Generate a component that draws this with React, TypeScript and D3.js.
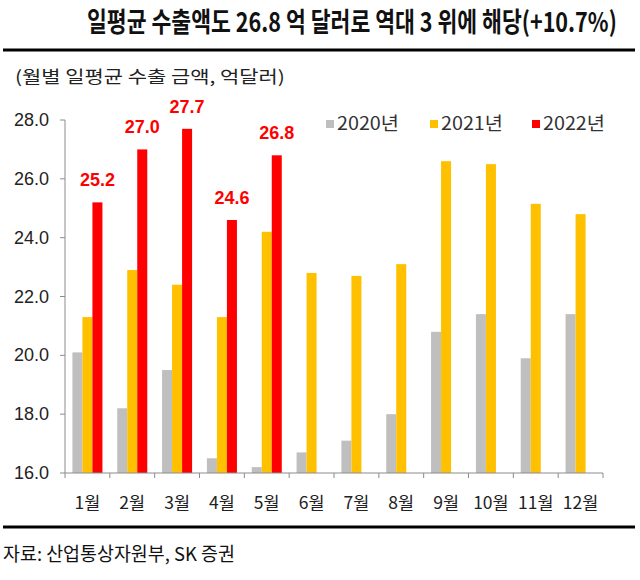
import React, { useLayoutEffect, useRef, useState } from 'react';
import * as d3 from 'd3';

const months = ['1월', '2월', '3월', '4월', '5월', '6월', '7월', '8월', '9월', '10월', '11월', '12월'];
const seriesNames = ['2020년', '2021년', '2022년'];
const v2020 = [20.1, 18.2, 19.5, 16.5, 16.2, 16.7, 17.1, 18.0, 20.8, 21.4, 19.9, 21.4];
const v2021 = [21.3, 22.9, 22.4, 21.3, 24.2, 22.8, 22.7, 23.1, 26.6, 26.5, 25.15, 24.8];
const v2022 = [25.2, 27.0, 27.7, 24.6, 26.8];
const yTicks = [16, 18, 20, 22, 24, 26, 28];
const colors = ['#BFBFBF', '#FFC000', '#FF0000'];

const title = '일평균 수출액도 26.8 억 달러로 역대 3 위에 해당(+10.7%)';
const subtitle = '(월별 일평균 수출 금액, 억달러)';
const source = '자료: 산업통상자원부, SK 증권';

const KR = '"Noto Sans CJK KR", "Noto Sans", sans-serif';
const AR = '"Liberation Sans", Arial, sans-serif';

function FitText(props: { x: number; y: number; width: number; size: number; weight?: number; fill: string; children: string }) {
  const ref = useRef<SVGTextElement>(null);
  const [sx, setSx] = useState(1);
  useLayoutEffect(() => {
    if (ref.current) {
      const len = ref.current.getComputedTextLength();
      if (len > 0) setSx(props.width / len);
    }
  }, [props.children, props.width, props.size]);
  return (
    <g transform={`translate(${props.x},${props.y}) scale(${sx},1)`}>
      <text ref={ref} x={0} y={0} fontFamily={KR} fontSize={props.size} fontWeight={props.weight ?? 400} fill={props.fill}>
        {props.children}
      </text>
    </g>
  );
}

export default function App() {
  const left = 65, right = 603, top = 120, bottom = 473;
  const x0 = d3.scaleBand<string>().domain(months).range([left, right]).padding(0);
  const x1 = d3.scaleBand<string>().domain(seriesNames).range([0, x0.bandwidth()]).paddingInner(0).paddingOuter(0.74);
  const y = d3.scaleLinear().domain([16, 28]).range([bottom, top]);
  const all = [v2020, v2021, v2022];
  const axisColor = '#8c8c8c';
  const legendX = [326, 430, 532];

  return (
    <svg width={640} height={580} style={{ position: 'absolute', left: 0, top: 0, background: '#fff' }}>
      <rect x={0} y={0} width={640} height={580} fill="#fff" />
      <FitText x={87} y={32} width={530} size={27} weight={700} fill="#111">{title}</FitText>
      <rect x={3} y={48.5} width={632} height={3} fill="#000" />
      <FitText x={15} y={83} width={270} size={17} fill="#222">{subtitle}</FitText>

      {/* bars */}
      {all.map((vals, si) =>
        vals.map((v, i) => {
          const xx = (x0(months[i]) as number) + (x1(seriesNames[si]) as number);
          return <rect key={`${si}-${i}`} x={xx} y={y(v)} width={x1.bandwidth()} height={bottom - y(v)} fill={colors[si]} />;
        })
      )}
      {v2022.map((v, i) => {
        const cx = (x0(months[i]) as number) + (x1(seriesNames[2]) as number) + x1.bandwidth() / 2;
        return (
          <text key={`l${i}`} x={cx} y={y(v) - 16} textAnchor="middle" fontFamily={AR} fontWeight={700} fontSize={18} fill="#FF0000">
            {v.toFixed(1)}
          </text>
        );
      })}

      {/* y axis */}
      <line x1={left} x2={left} y1={top} y2={bottom} stroke={axisColor} strokeWidth={1} />
      {yTicks.map((t) => (
        <g key={t}>
          <line x1={left - 5} x2={left} y1={y(t)} y2={y(t)} stroke={axisColor} />
          <text x={49} y={y(t) + 6} textAnchor="end" fontFamily={AR} fontSize={18} fill="#222">{t.toFixed(1)}</text>
        </g>
      ))}

      {/* x axis */}
      <line x1={left} x2={right} y1={bottom} y2={bottom} stroke={axisColor} strokeWidth={1} />
      {months.concat(['end']).map((m, i) => {
        const xx = i < months.length ? (x0(m) as number) : right;
        return <line key={`t${i}`} x1={xx} x2={xx} y1={bottom} y2={bottom + 5} stroke={axisColor} />;
      })}
      {months.map((m) => (
        <text key={m} x={(x0(m) as number) + x0.bandwidth() / 2} y={509} textAnchor="middle" fontFamily={KR} fontSize={17.5} fill="#222">{m}</text>
      ))}

      {/* legend */}
      {seriesNames.map((s, i) => (
        <g key={s}>
          <rect x={legendX[i]} y={120} width={8} height={8} fill={colors[i]} />
          <FitText x={legendX[i] + 11} y={130} width={62} size={18} fill="#333">{s}</FitText>
        </g>
      ))}

      <rect x={3} y={525.5} width={632} height={3} fill="#000" />
      <FitText x={3} y={561} width={232} size={19} fill="#111">{source}</FitText>
    </svg>
  );
}
